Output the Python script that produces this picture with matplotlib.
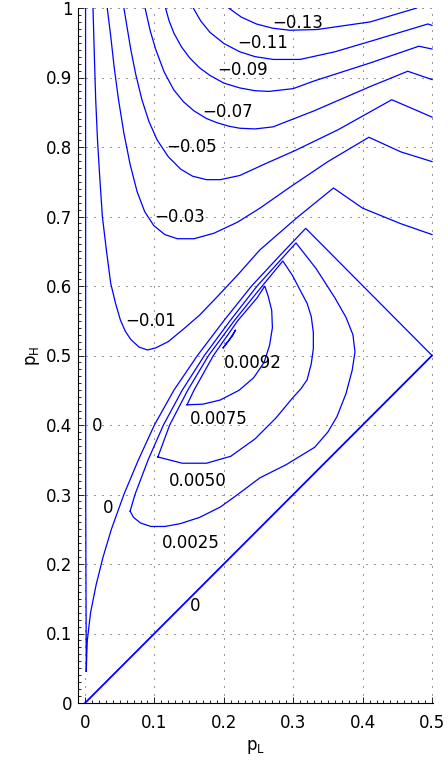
import matplotlib
matplotlib.use('Agg')
import matplotlib.pyplot as plt
from matplotlib.ticker import MultipleLocator

# contour lines, as (pL, pH) point lists

# zero level: vertical branch near pL=0, curved branch up to the corner, then down to (0.5, 0.5)
zero_pl = [0.0008, 0.001, 0.0018, 0.0025, 0.0033, 0.008, 0.016, 0.026, 0.038, 0.056, 0.077,
           0.100, 0.128, 0.162, 0.200, 0.240, 0.280, 0.318, 0.5]
zero_ph = [1.0, 0.3, 0.045, 0.07, 0.09, 0.13, 0.17, 0.21, 0.25, 0.30, 0.35,
           0.40, 0.45, 0.50, 0.55, 0.60, 0.643, 0.683, 0.5]
diag_pl = [0.0, 0.5]
diag_ph = [0.0, 0.5]

m01_pl = [0.0115, 0.0135, 0.0154, 0.018, 0.021, 0.025, 0.031, 0.037, 0.044, 0.051, 0.058,
          0.066, 0.078, 0.09, 0.102, 0.12, 0.143, 0.165, 0.19, 0.22, 0.252, 0.305, 0.358,
          0.40, 0.454, 0.5]
m01_ph = [1.0, 0.93, 0.868, 0.81, 0.76, 0.70, 0.65, 0.604, 0.575, 0.551, 0.535,
          0.523, 0.512, 0.508, 0.511, 0.52, 0.539, 0.558, 0.584, 0.616, 0.652, 0.698, 0.741,
          0.712, 0.690, 0.674]

m03_pl = [0.032, 0.037, 0.042, 0.048, 0.056, 0.065, 0.075, 0.086, 0.099, 0.115, 0.133,
          0.157, 0.186, 0.22, 0.252, 0.295, 0.35, 0.409, 0.455, 0.5]
m03_ph = [1.0, 0.96, 0.915, 0.87, 0.82, 0.775, 0.736, 0.707, 0.687, 0.674, 0.668,
          0.668, 0.676, 0.692, 0.712, 0.742, 0.779, 0.814, 0.793, 0.779]

m05_pl = [0.056, 0.061, 0.066, 0.073, 0.082, 0.092, 0.104, 0.12, 0.138, 0.155, 0.175,
          0.195, 0.223, 0.26, 0.303, 0.365, 0.442, 0.47, 0.5]
m05_ph = [1.0, 0.97, 0.94, 0.905, 0.868, 0.837, 0.81, 0.786, 0.768, 0.758, 0.753,
          0.753, 0.759, 0.776, 0.795, 0.825, 0.868, 0.856, 0.843]

m07_pl = [0.0865, 0.094, 0.102, 0.114, 0.128, 0.142, 0.157, 0.175, 0.19, 0.207, 0.223,
          0.245, 0.271, 0.33, 0.411, 0.465, 0.5]
m07_ph = [1.0, 0.967, 0.94, 0.908, 0.882, 0.865, 0.852, 0.841, 0.835, 0.83, 0.827,
          0.826, 0.829, 0.852, 0.887, 0.909, 0.897]

m09_pl = [0.116, 0.121, 0.128, 0.139, 0.151, 0.165, 0.18, 0.2, 0.223, 0.245, 0.265,
          0.30, 0.33, 0.411, 0.481, 0.5]
m09_ph = [1.0, 0.982, 0.964, 0.944, 0.928, 0.914, 0.903, 0.892, 0.885, 0.881, 0.880,
          0.884, 0.895, 0.921, 0.945, 0.941]

m11_pl = [0.156, 0.167, 0.18, 0.2, 0.223, 0.245, 0.271, 0.31, 0.36, 0.411, 0.494, 0.5]
m11_ph = [1.0, 0.981, 0.965, 0.949, 0.937, 0.930, 0.926, 0.926, 0.937, 0.952, 0.977, 0.975]

m13_pl = [0.207, 0.225, 0.247, 0.27, 0.295, 0.334, 0.411, 0.478]
m13_ph = [1.0, 0.987, 0.977, 0.971, 0.968, 0.969, 0.980, 1.0]

p0025_pl = [0.065, 0.072, 0.091, 0.113, 0.140, 0.172, 0.209, 0.248, 0.304, 0.333, 0.360,
            0.376, 0.386, 0.389, 0.385, 0.376, 0.363, 0.35, 0.331, 0.290, 0.252, 0.22,
            0.195, 0.165, 0.137, 0.115, 0.095, 0.08, 0.07, 0.065]
p0025_ph = [0.276, 0.300, 0.350, 0.400, 0.450, 0.500, 0.550, 0.600, 0.662, 0.625, 0.583,
            0.555, 0.530, 0.505, 0.479, 0.445, 0.412, 0.39, 0.368, 0.343, 0.324, 0.30,
            0.282, 0.267, 0.258, 0.254, 0.254, 0.259, 0.267, 0.276]

p0050_pl = [0.105, 0.122, 0.148, 0.178, 0.215, 0.248, 0.285, 0.299, 0.31, 0.32, 0.326,
            0.329, 0.329, 0.326, 0.32, 0.311, 0.30, 0.275, 0.245, 0.21, 0.175, 0.14, 0.105]
p0050_ph = [0.354, 0.400, 0.450, 0.500, 0.550, 0.591, 0.636, 0.615, 0.594, 0.575, 0.556,
            0.533, 0.51, 0.488, 0.465, 0.452, 0.44, 0.41, 0.38, 0.355, 0.345, 0.345, 0.354]

p0075_pl = [0.147, 0.157, 0.185, 0.22, 0.248, 0.259, 0.264, 0.269, 0.27, 0.266, 0.258,
            0.243, 0.222, 0.195, 0.17, 0.147]
p0075_ph = [0.429, 0.45, 0.50, 0.55, 0.583, 0.600, 0.585, 0.565, 0.54, 0.515, 0.49,
            0.468, 0.45, 0.436, 0.43, 0.429]

p0092_pl = [0.199, 0.207, 0.217, 0.213, 0.204, 0.199]
p0092_ph = [0.511, 0.521, 0.537, 0.529, 0.518, 0.511]

curves = [(zero_pl, zero_ph), (m01_pl, m01_ph), (m03_pl, m03_ph), (m05_pl, m05_ph),
          (m07_pl, m07_ph), (m09_pl, m09_ph), (m11_pl, m11_ph), (m13_pl, m13_ph),
          (p0025_pl, p0025_ph), (p0050_pl, p0050_ph), (p0075_pl, p0075_ph),
          (p0092_pl, p0092_ph)]

label_text = ['\u22120.13', '\u22120.11', '\u22120.09', '\u22120.07', '\u22120.05',
              '\u22120.03', '\u22120.01', '0.0092', '0.0075', '0.0050', '0.0025',
              '0', '0', '0']
label_pl = [0.306, 0.256, 0.227, 0.205, 0.154, 0.137, 0.094, 0.242, 0.193, 0.162, 0.153,
            0.017, 0.033, 0.158]
label_ph = [0.979, 0.950, 0.911, 0.850, 0.800, 0.699, 0.550, 0.489, 0.409, 0.319, 0.230,
            0.399, 0.281, 0.140]

xticks = [0, 0.1, 0.2, 0.3, 0.4, 0.5]
xticklabels = ['0', '0.1', '0.2', '0.3', '0.4', '0.5']
yticks = [0, 0.1, 0.2, 0.3, 0.4, 0.5, 0.6, 0.7, 0.8, 0.9, 1.0]
yticklabels = ['0', '0.1', '0.2', '0.3', '0.4', '0.5', '0.6', '0.7', '0.8', '0.9', '1']

fig = plt.figure(figsize=(4.48, 7.63), dpi=100)
ax = fig.add_axes([78/448, 60/763, 355/448, 695/763])

for pl, ph in curves:
    ax.plot(pl, ph, color='blue', lw=0.9, solid_joinstyle='miter')
ax.plot(diag_pl, diag_ph, color='blue', lw=1.3)

for t, x, y in zip(label_text, label_pl, label_ph):
    ax.text(x, y, t, fontsize=12, ha='center', va='center')

ax.set_xlim(-0.0101, 0.5014)
ax.set_ylim(0, 1)
ax.set_xticks(xticks)
ax.set_xticklabels(xticklabels)
ax.set_yticks(yticks)
ax.set_yticklabels(yticklabels)
ax.xaxis.set_minor_locator(MultipleLocator(0.01))
ax.yaxis.set_minor_locator(MultipleLocator(0.01))
ax.tick_params(which='both', direction='in', labelsize=12, width=0.6)
ax.tick_params(which='major', length=4.5)
ax.tick_params(which='minor', length=2)
ax.tick_params(axis='x', pad=8)
ax.tick_params(axis='y', pad=4)
ax.grid(True, which='major', linestyle=(0, (1, 7)), color='0.2', linewidth=0.72)

for s in ['top', 'right']:
    ax.spines[s].set_visible(False)
for s in ['left', 'bottom']:
    ax.spines[s].set_linewidth(0.8)

ax.set_xlabel(r'$\mathregular{p_L}$', fontsize=12, labelpad=4)
ax.set_ylabel(r'$\mathregular{p_H}$', fontsize=12, labelpad=3)

fig.savefig('out.png', dpi=100)
